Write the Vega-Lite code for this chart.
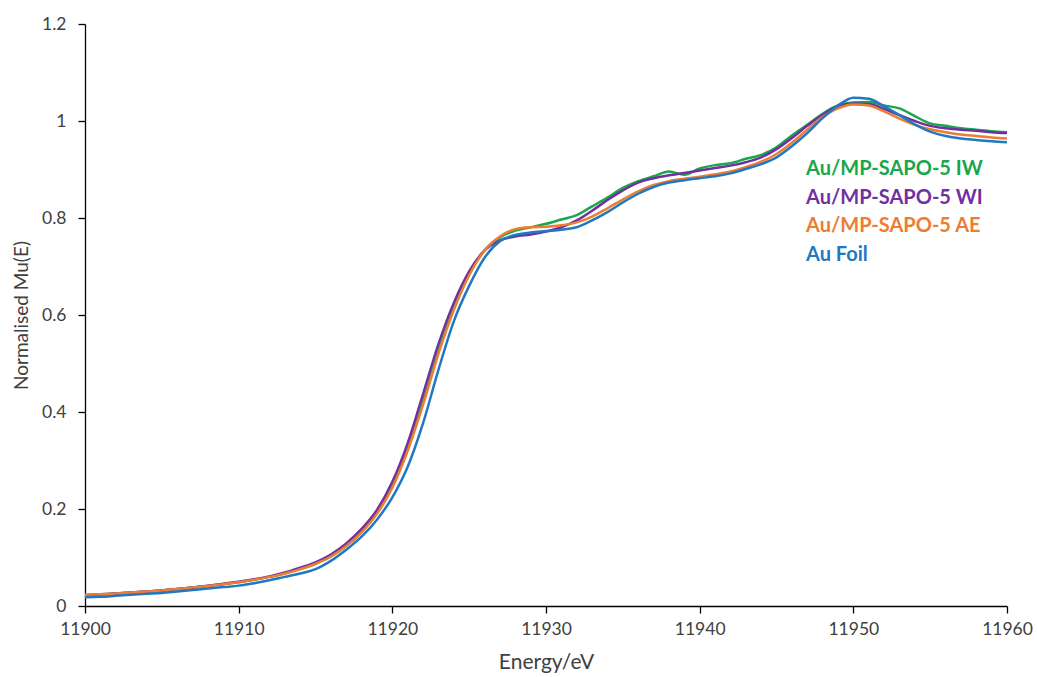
{
  "$schema": "https://vega.github.io/schema/vega-lite/v6.json",
  "autosize": "none",
  "width": 922,
  "height": 582,
  "padding": {"left": 85, "top": 24, "right": 30, "bottom": 71},
  "background": "white",
  "config": {
    "view": {"stroke": null},
    "font": "Lato"
  },
  "data": {
    "values": [
      {"s":"Au/MP-SAPO-5 IW","E":11900,"v":0.022},{"s":"Au/MP-SAPO-5 IW","E":11901,"v":0.024},{"s":"Au/MP-SAPO-5 IW","E":11902,"v":0.026},{"s":"Au/MP-SAPO-5 IW","E":11903,"v":0.028},{"s":"Au/MP-SAPO-5 IW","E":11904,"v":0.030},{"s":"Au/MP-SAPO-5 IW","E":11905,"v":0.032},{"s":"Au/MP-SAPO-5 IW","E":11906,"v":0.035},{"s":"Au/MP-SAPO-5 IW","E":11907,"v":0.038},{"s":"Au/MP-SAPO-5 IW","E":11908,"v":0.041},{"s":"Au/MP-SAPO-5 IW","E":11909,"v":0.045},{"s":"Au/MP-SAPO-5 IW","E":11910,"v":0.049},{"s":"Au/MP-SAPO-5 IW","E":11911,"v":0.054},{"s":"Au/MP-SAPO-5 IW","E":11912,"v":0.060},{"s":"Au/MP-SAPO-5 IW","E":11913,"v":0.067},{"s":"Au/MP-SAPO-5 IW","E":11914,"v":0.076},{"s":"Au/MP-SAPO-5 IW","E":11915,"v":0.087},{"s":"Au/MP-SAPO-5 IW","E":11916,"v":0.102},{"s":"Au/MP-SAPO-5 IW","E":11917,"v":0.124},{"s":"Au/MP-SAPO-5 IW","E":11918,"v":0.153},{"s":"Au/MP-SAPO-5 IW","E":11919,"v":0.192},{"s":"Au/MP-SAPO-5 IW","E":11920,"v":0.247},{"s":"Au/MP-SAPO-5 IW","E":11921,"v":0.324},{"s":"Au/MP-SAPO-5 IW","E":11922,"v":0.421},{"s":"Au/MP-SAPO-5 IW","E":11923,"v":0.525},{"s":"Au/MP-SAPO-5 IW","E":11924,"v":0.614},{"s":"Au/MP-SAPO-5 IW","E":11925,"v":0.684},{"s":"Au/MP-SAPO-5 IW","E":11926,"v":0.733},{"s":"Au/MP-SAPO-5 IW","E":11927,"v":0.760},{"s":"Au/MP-SAPO-5 IW","E":11928,"v":0.774},{"s":"Au/MP-SAPO-5 IW","E":11929,"v":0.781},{"s":"Au/MP-SAPO-5 IW","E":11930,"v":0.788},{"s":"Au/MP-SAPO-5 IW","E":11931,"v":0.797},{"s":"Au/MP-SAPO-5 IW","E":11932,"v":0.806},{"s":"Au/MP-SAPO-5 IW","E":11933,"v":0.824},{"s":"Au/MP-SAPO-5 IW","E":11934,"v":0.842},{"s":"Au/MP-SAPO-5 IW","E":11935,"v":0.862},{"s":"Au/MP-SAPO-5 IW","E":11936,"v":0.876},{"s":"Au/MP-SAPO-5 IW","E":11937,"v":0.886},{"s":"Au/MP-SAPO-5 IW","E":11938,"v":0.896},{"s":"Au/MP-SAPO-5 IW","E":11939,"v":0.889},{"s":"Au/MP-SAPO-5 IW","E":11940,"v":0.902},{"s":"Au/MP-SAPO-5 IW","E":11941,"v":0.909},{"s":"Au/MP-SAPO-5 IW","E":11942,"v":0.913},{"s":"Au/MP-SAPO-5 IW","E":11943,"v":0.922},{"s":"Au/MP-SAPO-5 IW","E":11944,"v":0.930},{"s":"Au/MP-SAPO-5 IW","E":11945,"v":0.946},{"s":"Au/MP-SAPO-5 IW","E":11946,"v":0.970},{"s":"Au/MP-SAPO-5 IW","E":11947,"v":0.992},{"s":"Au/MP-SAPO-5 IW","E":11948,"v":1.015},{"s":"Au/MP-SAPO-5 IW","E":11949,"v":1.032},{"s":"Au/MP-SAPO-5 IW","E":11950,"v":1.038},{"s":"Au/MP-SAPO-5 IW","E":11951,"v":1.039},{"s":"Au/MP-SAPO-5 IW","E":11952,"v":1.032},{"s":"Au/MP-SAPO-5 IW","E":11953,"v":1.026},{"s":"Au/MP-SAPO-5 IW","E":11954,"v":1.010},{"s":"Au/MP-SAPO-5 IW","E":11955,"v":0.995},{"s":"Au/MP-SAPO-5 IW","E":11956,"v":0.990},{"s":"Au/MP-SAPO-5 IW","E":11957,"v":0.985},{"s":"Au/MP-SAPO-5 IW","E":11958,"v":0.982},{"s":"Au/MP-SAPO-5 IW","E":11959,"v":0.979},{"s":"Au/MP-SAPO-5 IW","E":11960,"v":0.977},

      {"s":"Au/MP-SAPO-5 WI","E":11900,"v":0.022},{"s":"Au/MP-SAPO-5 WI","E":11901,"v":0.024},{"s":"Au/MP-SAPO-5 WI","E":11902,"v":0.026},{"s":"Au/MP-SAPO-5 WI","E":11903,"v":0.028},{"s":"Au/MP-SAPO-5 WI","E":11904,"v":0.030},{"s":"Au/MP-SAPO-5 WI","E":11905,"v":0.032},{"s":"Au/MP-SAPO-5 WI","E":11906,"v":0.035},{"s":"Au/MP-SAPO-5 WI","E":11907,"v":0.038},{"s":"Au/MP-SAPO-5 WI","E":11908,"v":0.042},{"s":"Au/MP-SAPO-5 WI","E":11909,"v":0.046},{"s":"Au/MP-SAPO-5 WI","E":11910,"v":0.050},{"s":"Au/MP-SAPO-5 WI","E":11911,"v":0.055},{"s":"Au/MP-SAPO-5 WI","E":11912,"v":0.061},{"s":"Au/MP-SAPO-5 WI","E":11913,"v":0.069},{"s":"Au/MP-SAPO-5 WI","E":11914,"v":0.079},{"s":"Au/MP-SAPO-5 WI","E":11915,"v":0.090},{"s":"Au/MP-SAPO-5 WI","E":11916,"v":0.106},{"s":"Au/MP-SAPO-5 WI","E":11917,"v":0.129},{"s":"Au/MP-SAPO-5 WI","E":11918,"v":0.159},{"s":"Au/MP-SAPO-5 WI","E":11919,"v":0.198},{"s":"Au/MP-SAPO-5 WI","E":11920,"v":0.256},{"s":"Au/MP-SAPO-5 WI","E":11921,"v":0.336},{"s":"Au/MP-SAPO-5 WI","E":11922,"v":0.437},{"s":"Au/MP-SAPO-5 WI","E":11923,"v":0.540},{"s":"Au/MP-SAPO-5 WI","E":11924,"v":0.625},{"s":"Au/MP-SAPO-5 WI","E":11925,"v":0.690},{"s":"Au/MP-SAPO-5 WI","E":11926,"v":0.733},{"s":"Au/MP-SAPO-5 WI","E":11927,"v":0.754},{"s":"Au/MP-SAPO-5 WI","E":11928,"v":0.762},{"s":"Au/MP-SAPO-5 WI","E":11929,"v":0.766},{"s":"Au/MP-SAPO-5 WI","E":11930,"v":0.772},{"s":"Au/MP-SAPO-5 WI","E":11931,"v":0.781},{"s":"Au/MP-SAPO-5 WI","E":11932,"v":0.795},{"s":"Au/MP-SAPO-5 WI","E":11933,"v":0.815},{"s":"Au/MP-SAPO-5 WI","E":11934,"v":0.837},{"s":"Au/MP-SAPO-5 WI","E":11935,"v":0.857},{"s":"Au/MP-SAPO-5 WI","E":11936,"v":0.873},{"s":"Au/MP-SAPO-5 WI","E":11937,"v":0.882},{"s":"Au/MP-SAPO-5 WI","E":11938,"v":0.888},{"s":"Au/MP-SAPO-5 WI","E":11939,"v":0.893},{"s":"Au/MP-SAPO-5 WI","E":11940,"v":0.898},{"s":"Au/MP-SAPO-5 WI","E":11941,"v":0.903},{"s":"Au/MP-SAPO-5 WI","E":11942,"v":0.908},{"s":"Au/MP-SAPO-5 WI","E":11943,"v":0.915},{"s":"Au/MP-SAPO-5 WI","E":11944,"v":0.925},{"s":"Au/MP-SAPO-5 WI","E":11945,"v":0.942},{"s":"Au/MP-SAPO-5 WI","E":11946,"v":0.965},{"s":"Au/MP-SAPO-5 WI","E":11947,"v":0.990},{"s":"Au/MP-SAPO-5 WI","E":11948,"v":1.013},{"s":"Au/MP-SAPO-5 WI","E":11949,"v":1.030},{"s":"Au/MP-SAPO-5 WI","E":11950,"v":1.036},{"s":"Au/MP-SAPO-5 WI","E":11951,"v":1.035},{"s":"Au/MP-SAPO-5 WI","E":11952,"v":1.025},{"s":"Au/MP-SAPO-5 WI","E":11953,"v":1.012},{"s":"Au/MP-SAPO-5 WI","E":11954,"v":1.000},{"s":"Au/MP-SAPO-5 WI","E":11955,"v":0.990},{"s":"Au/MP-SAPO-5 WI","E":11956,"v":0.985},{"s":"Au/MP-SAPO-5 WI","E":11957,"v":0.982},{"s":"Au/MP-SAPO-5 WI","E":11958,"v":0.980},{"s":"Au/MP-SAPO-5 WI","E":11959,"v":0.977},{"s":"Au/MP-SAPO-5 WI","E":11960,"v":0.975},

      {"s":"Au/MP-SAPO-5 AE","E":11900,"v":0.023},{"s":"Au/MP-SAPO-5 AE","E":11901,"v":0.024},{"s":"Au/MP-SAPO-5 AE","E":11902,"v":0.026},{"s":"Au/MP-SAPO-5 AE","E":11903,"v":0.028},{"s":"Au/MP-SAPO-5 AE","E":11904,"v":0.030},{"s":"Au/MP-SAPO-5 AE","E":11905,"v":0.032},{"s":"Au/MP-SAPO-5 AE","E":11906,"v":0.035},{"s":"Au/MP-SAPO-5 AE","E":11907,"v":0.038},{"s":"Au/MP-SAPO-5 AE","E":11908,"v":0.041},{"s":"Au/MP-SAPO-5 AE","E":11909,"v":0.045},{"s":"Au/MP-SAPO-5 AE","E":11910,"v":0.049},{"s":"Au/MP-SAPO-5 AE","E":11911,"v":0.054},{"s":"Au/MP-SAPO-5 AE","E":11912,"v":0.060},{"s":"Au/MP-SAPO-5 AE","E":11913,"v":0.067},{"s":"Au/MP-SAPO-5 AE","E":11914,"v":0.076},{"s":"Au/MP-SAPO-5 AE","E":11915,"v":0.087},{"s":"Au/MP-SAPO-5 AE","E":11916,"v":0.102},{"s":"Au/MP-SAPO-5 AE","E":11917,"v":0.124},{"s":"Au/MP-SAPO-5 AE","E":11918,"v":0.152},{"s":"Au/MP-SAPO-5 AE","E":11919,"v":0.190},{"s":"Au/MP-SAPO-5 AE","E":11920,"v":0.244},{"s":"Au/MP-SAPO-5 AE","E":11921,"v":0.320},{"s":"Au/MP-SAPO-5 AE","E":11922,"v":0.415},{"s":"Au/MP-SAPO-5 AE","E":11923,"v":0.520},{"s":"Au/MP-SAPO-5 AE","E":11924,"v":0.610},{"s":"Au/MP-SAPO-5 AE","E":11925,"v":0.682},{"s":"Au/MP-SAPO-5 AE","E":11926,"v":0.733},{"s":"Au/MP-SAPO-5 AE","E":11927,"v":0.762},{"s":"Au/MP-SAPO-5 AE","E":11928,"v":0.777},{"s":"Au/MP-SAPO-5 AE","E":11929,"v":0.781},{"s":"Au/MP-SAPO-5 AE","E":11930,"v":0.782},{"s":"Au/MP-SAPO-5 AE","E":11931,"v":0.785},{"s":"Au/MP-SAPO-5 AE","E":11932,"v":0.791},{"s":"Au/MP-SAPO-5 AE","E":11933,"v":0.803},{"s":"Au/MP-SAPO-5 AE","E":11934,"v":0.820},{"s":"Au/MP-SAPO-5 AE","E":11935,"v":0.838},{"s":"Au/MP-SAPO-5 AE","E":11936,"v":0.855},{"s":"Au/MP-SAPO-5 AE","E":11937,"v":0.868},{"s":"Au/MP-SAPO-5 AE","E":11938,"v":0.876},{"s":"Au/MP-SAPO-5 AE","E":11939,"v":0.881},{"s":"Au/MP-SAPO-5 AE","E":11940,"v":0.885},{"s":"Au/MP-SAPO-5 AE","E":11941,"v":0.890},{"s":"Au/MP-SAPO-5 AE","E":11942,"v":0.896},{"s":"Au/MP-SAPO-5 AE","E":11943,"v":0.905},{"s":"Au/MP-SAPO-5 AE","E":11944,"v":0.916},{"s":"Au/MP-SAPO-5 AE","E":11945,"v":0.932},{"s":"Au/MP-SAPO-5 AE","E":11946,"v":0.955},{"s":"Au/MP-SAPO-5 AE","E":11947,"v":0.982},{"s":"Au/MP-SAPO-5 AE","E":11948,"v":1.008},{"s":"Au/MP-SAPO-5 AE","E":11949,"v":1.026},{"s":"Au/MP-SAPO-5 AE","E":11950,"v":1.034},{"s":"Au/MP-SAPO-5 AE","E":11951,"v":1.032},{"s":"Au/MP-SAPO-5 AE","E":11952,"v":1.020},{"s":"Au/MP-SAPO-5 AE","E":11953,"v":1.005},{"s":"Au/MP-SAPO-5 AE","E":11954,"v":0.992},{"s":"Au/MP-SAPO-5 AE","E":11955,"v":0.983},{"s":"Au/MP-SAPO-5 AE","E":11956,"v":0.977},{"s":"Au/MP-SAPO-5 AE","E":11957,"v":0.972},{"s":"Au/MP-SAPO-5 AE","E":11958,"v":0.969},{"s":"Au/MP-SAPO-5 AE","E":11959,"v":0.966},{"s":"Au/MP-SAPO-5 AE","E":11960,"v":0.964},

      {"s":"Au Foil","E":11900,"v":0.018},{"s":"Au Foil","E":11901,"v":0.019},{"s":"Au Foil","E":11902,"v":0.021},{"s":"Au Foil","E":11903,"v":0.023},{"s":"Au Foil","E":11904,"v":0.025},{"s":"Au Foil","E":11905,"v":0.027},{"s":"Au Foil","E":11906,"v":0.030},{"s":"Au Foil","E":11907,"v":0.033},{"s":"Au Foil","E":11908,"v":0.036},{"s":"Au Foil","E":11909,"v":0.039},{"s":"Au Foil","E":11910,"v":0.042},{"s":"Au Foil","E":11911,"v":0.047},{"s":"Au Foil","E":11912,"v":0.053},{"s":"Au Foil","E":11913,"v":0.060},{"s":"Au Foil","E":11914,"v":0.067},{"s":"Au Foil","E":11915,"v":0.076},{"s":"Au Foil","E":11916,"v":0.093},{"s":"Au Foil","E":11917,"v":0.116},{"s":"Au Foil","E":11918,"v":0.143},{"s":"Au Foil","E":11919,"v":0.178},{"s":"Au Foil","E":11920,"v":0.224},{"s":"Au Foil","E":11921,"v":0.287},{"s":"Au Foil","E":11922,"v":0.377},{"s":"Au Foil","E":11923,"v":0.487},{"s":"Au Foil","E":11924,"v":0.587},{"s":"Au Foil","E":11925,"v":0.660},{"s":"Au Foil","E":11926,"v":0.718},{"s":"Au Foil","E":11927,"v":0.752},{"s":"Au Foil","E":11928,"v":0.765},{"s":"Au Foil","E":11929,"v":0.770},{"s":"Au Foil","E":11930,"v":0.773},{"s":"Au Foil","E":11931,"v":0.776},{"s":"Au Foil","E":11932,"v":0.781},{"s":"Au Foil","E":11933,"v":0.795},{"s":"Au Foil","E":11934,"v":0.812},{"s":"Au Foil","E":11935,"v":0.832},{"s":"Au Foil","E":11936,"v":0.850},{"s":"Au Foil","E":11937,"v":0.864},{"s":"Au Foil","E":11938,"v":0.873},{"s":"Au Foil","E":11939,"v":0.878},{"s":"Au Foil","E":11940,"v":0.882},{"s":"Au Foil","E":11941,"v":0.886},{"s":"Au Foil","E":11942,"v":0.892},{"s":"Au Foil","E":11943,"v":0.901},{"s":"Au Foil","E":11944,"v":0.911},{"s":"Au Foil","E":11945,"v":0.925},{"s":"Au Foil","E":11946,"v":0.948},{"s":"Au Foil","E":11947,"v":0.975},{"s":"Au Foil","E":11948,"v":1.006},{"s":"Au Foil","E":11949,"v":1.032},{"s":"Au Foil","E":11950,"v":1.048},{"s":"Au Foil","E":11951,"v":1.046},{"s":"Au Foil","E":11952,"v":1.030},{"s":"Au Foil","E":11953,"v":1.012},{"s":"Au Foil","E":11954,"v":0.993},{"s":"Au Foil","E":11955,"v":0.978},{"s":"Au Foil","E":11956,"v":0.969},{"s":"Au Foil","E":11957,"v":0.964},{"s":"Au Foil","E":11958,"v":0.961},{"s":"Au Foil","E":11959,"v":0.958},{"s":"Au Foil","E":11960,"v":0.956}
    ]
  },
  "mark": {"type": "line", "strokeWidth": 2.5, "interpolate": "monotone"},
  "encoding": {
    "x": {
      "field": "E", "type": "quantitative",
      "scale": {"domain": [11900, 11960], "nice": false, "zero": false},
      "axis": {
        "values": [11900, 11910, 11920, 11930, 11940, 11950, 11960],
        "format": "d", "grid": false, "labelFlush": false, "labelOverlap": false,
        "title": "Energy/eV",
        "titleFont": "Lato", "titleFontSize": 21, "titleFontWeight": "normal", "titleColor": "#404040", "titlePadding": 14,
        "labelFont": "Lato", "labelFontSize": 17.5, "labelColor": "#404040", "labelPadding": 7,
        "domainColor": "#000000", "domainWidth": 1.3, "tickColor": "#000000", "tickWidth": 1.3, "tickSize": 7
      }
    },
    "y": {
      "field": "v", "type": "quantitative",
      "scale": {"domain": [0, 1.2], "nice": false},
      "axis": {
        "values": [0, 0.2, 0.4, 0.6, 0.8, 1, 1.2],
        "format": "~g", "grid": false, "labelFlush": false, "labelOverlap": false,
        "title": "Normalised Mu(E)",
        "titleFont": "Lato", "titleFontSize": 19, "titleFontWeight": "normal", "titleColor": "#404040", "titlePadding": 10,
        "labelFont": "Lato", "labelFontSize": 17.5, "labelColor": "#404040", "labelPadding": 12,
        "domainColor": "#000000", "domainWidth": 1.3, "tickColor": "#000000", "tickWidth": 1.3, "tickSize": 7
      }
    },
    "color": {
      "field": "s", "type": "nominal",
      "scale": {
        "domain": ["Au/MP-SAPO-5 IW", "Au/MP-SAPO-5 WI", "Au/MP-SAPO-5 AE", "Au Foil"],
        "range": ["#1aa64a", "#7030a0", "#ed7d31", "#1f78c1"]
      },
      "legend": {
        "title": null,
        "orient": "none",
        "legendX": 701,
        "legendY": 135,
        "padding": 0,
        "symbolSize": 0,
        "symbolStrokeWidth": 0,
        "symbolOpacity": 0,
        "labelOffset": 0,
        "labelFont": "Lato",
        "labelFontSize": 20,
        "labelFontWeight": "bold",
        "rowPadding": 8.7,
        "labelLimit": 300,
        "encode": {
          "labels": {"update": {"fill": {"scale": "color", "field": "value"}}}
        }
      }
    }
  }
}
